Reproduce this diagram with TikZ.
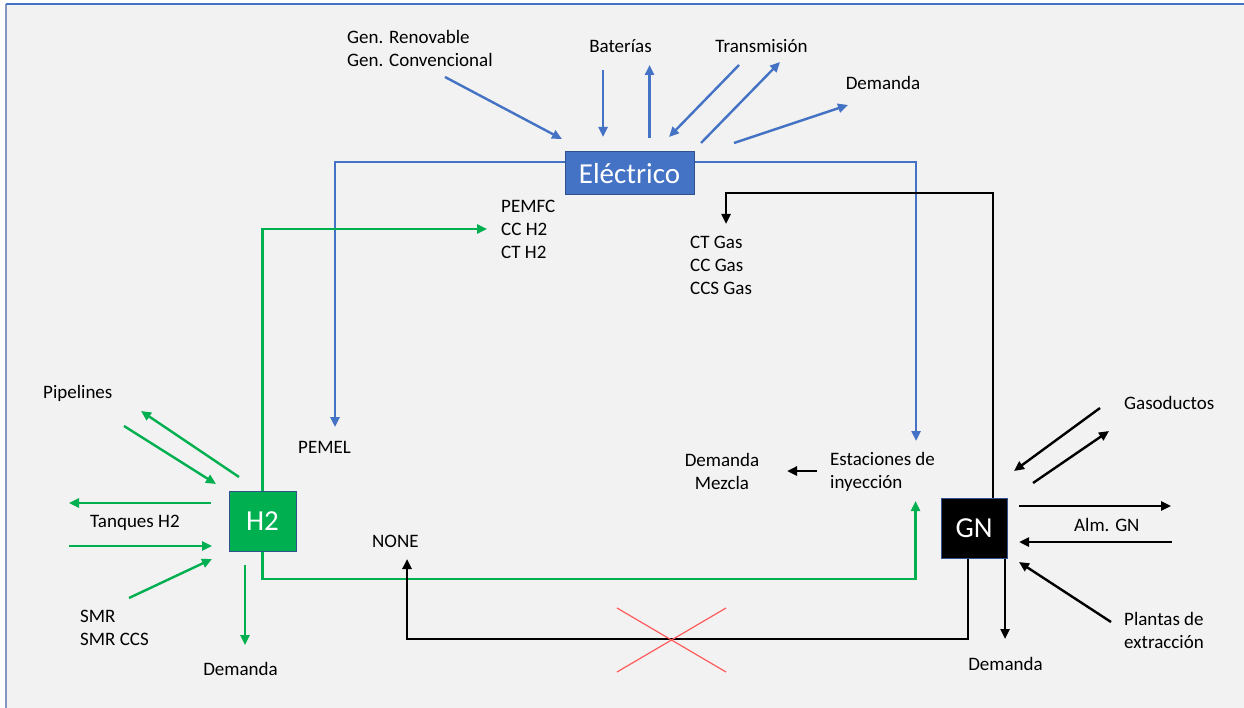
\documentclass[tikz,border=0pt]{standalone}
\usepackage{fontspec}
\setmainfont{Carlito}
\usetikzlibrary{arrows.meta}
\definecolor{eblue}{RGB}{68,114,196}
\definecolor{hgreen}{RGB}{0,176,80}
\definecolor{bdr}{RGB}{47,82,143}
\definecolor{bg}{RGB}{242,242,242}
\definecolor{frm}{RGB}{132,151,192}
\definecolor{xred}{RGB}{255,90,90}

\begin{document}
\begin{tikzpicture}[x=1pt, y=-1pt, >={Triangle[length=10pt,width=9pt]}, line width=2.4pt,
  box/.style={draw=bdr, line width=1pt, text=white, inner sep=0pt, font=\fontsize{29}{33}\selectfont},
  lbl/.style={font=\fontsize{19}{23}\selectfont, inner sep=0pt, align=left, anchor=west},
  bl/.style={->, eblue},
  gr/.style={->, hgreen},
  bk/.style={->, black}
]

% Background
\useasboundingbox (0,0) rectangle (1244,708);
\fill[white] (0,0) rectangle (1244,708);
\fill[bg] (6,4) rectangle (1244,708);
\draw[frm, line width=1.5pt] (6,708) -- (6,4);
\draw[eblue, line width=1.5pt] (6,4) -- (1244,4);

% Boxes
\node[box, fill=eblue, minimum width=129pt, minimum height=43pt] (elec) at (629.5,173.5) {Eléctrico};
\node[box, fill=hgreen, minimum width=67pt, minimum height=60pt] (h2) at (262.5,521) {H2};
\node[box, fill=black, minimum width=66pt, minimum height=60pt] (gn) at (974,528) {GN};

% Labels
\node[lbl] (gen) at (346,48.5) {Gen. Renovable\\Gen. Convencional};
\node[lbl, anchor=center] (bat) at (620.5,46) {Baterías};
\node[lbl, anchor=center] (trans) at (761.5,46) {Transmisión};
\node[lbl, anchor=center] (demE) at (883,83) {Demanda};
\node[lbl] (pemfc) at (500,229) {PEMFC\\CC H2\\CT H2};
\node[lbl] (ctgas) at (689,265) {CT Gas\\CC Gas\\CCS Gas};
\node[lbl] (pemel) at (297,447) {PEMEL};
\node[lbl, anchor=center, align=center] (demMez) at (722,471.5) {Demanda\\Mezcla};
\node[lbl] (estac) at (829,471.5) {Estaciones de\\inyección};
\node[lbl] (pipel) at (42,393) {Pipelines};
\node[lbl] (tanq) at (89,523) {Tanques H2};
\node[lbl] (smr) at (79,628) {SMR\\SMR CCS};
\node[lbl, anchor=center] (demH) at (240.5,669) {Demanda};
\node[lbl] (none) at (371,541) {NONE};
\node[lbl] (gasod) at (1123,403) {Gasoductos};
\node[lbl] (alm) at (1073,525) {Alm. GN};
\node[lbl] (plant) at (1123,630.5) {Plantas de\\extracción};
\node[lbl, anchor=center] (demG) at (1005.5,664) {Demanda};

% Arrow ends
\coordinate (elink) at (0,162);
\coordinate (glink) at (0,579);
\coordinate (gtop) at (0,193);
\coordinate (nlink) at (0,639);
\coordinate (pemelIn) at (335,427);
\coordinate (estacIn) at (916,441);
\coordinate (estacUp) at (915.5,501);
\coordinate (pemfcIn) at (487,229);
\coordinate (ctgasIn) at (726,224);
\coordinate (noneIn) at (407,559);

% Electric arrows
\coordinate (g1) at (445,77);   \coordinate (g2) at (562,139);
\coordinate (b1) at (603,70);   \coordinate (b2) at (603,137);
\coordinate (b3) at (649.5,138); \coordinate (b4) at (649.5,65);
\coordinate (t1) at (739,65);   \coordinate (t2) at (669,137);
\coordinate (t3) at (701,143);  \coordinate (t4) at (780,62);
\coordinate (d1) at (734,143);  \coordinate (d2) at (848,105);
\draw[bl] (g1) -- (g2);
\draw[bl] (b1) -- (b2);
\draw[bl] (b3) -- (b4);
\draw[bl] (t1) -- (t2);
\draw[bl] (t3) -- (t4);
\draw[bl] (d1) -- (d2);
\draw[bl] (elec.west |- elink) -| (pemelIn);
\draw[bl] (elec.east |- elink) -| (estacIn);

% H2 arrows
\coordinate (p1) at (239,477);  \coordinate (p2) at (141,411);
\coordinate (p3) at (124,426);  \coordinate (p4) at (216,484);
\coordinate (k1) at (211,503);  \coordinate (k2) at (69,503);
\coordinate (k3) at (69,546);   \coordinate (k4) at (212,546);
\coordinate (s1) at (129,598);  \coordinate (s2) at (212,559);
\coordinate (h1) at (245,565);  \coordinate (h2d) at (245,645);
\draw[gr] (p1) -- (p2);
\draw[gr] (p3) -- (p4);
\draw[gr] (k1) -- (k2);
\draw[gr] (k3) -- (k4);
\draw[gr] (s1) -- (s2);
\draw[gr] (h1) -- (h2d);
\draw[gr] (h2.north) |- (pemfcIn);
\draw[gr] (h2.south) -- (h2.south |- glink) -| (estacUp);

% GN arrows
\coordinate (a1) at (1100,408); \coordinate (a2) at (1014,471);
\coordinate (a3) at (1033,483); \coordinate (a4) at (1109,431);
\coordinate (m1) at (1019,506); \coordinate (m2) at (1171,506);
\coordinate (m3) at (1172,542); \coordinate (m4) at (1019,542);
\coordinate (e1) at (1111,622); \coordinate (e2) at (1019,562);
\coordinate (gd) at (1005,639);
\coordinate (x1) at (817,471);  \coordinate (x2) at (787,471);
\draw[bk] (a1) -- (a2);
\draw[bk] (a3) -- (a4);
\draw[bk] (m1) -- (m2);
\draw[bk] (m3) -- (m4);
\draw[bk] (e1) -- (e2);
\draw[bk] ([xshift=31pt]gn.south) -- (gd);
\draw[bk] (x1) -- (x2);
\draw[bk] ([xshift=19pt]gn.north) |- (ctgasIn |- gtop) -- (ctgasIn);
\draw[bk] ([xshift=-6pt]gn.south) |- (noneIn |- nlink) -- (noneIn);

% Cross
\draw[xred, line width=1.2pt] (617,608) -- (726,672) (617,672) -- (726,608);

\end{tikzpicture}
\end{document}
